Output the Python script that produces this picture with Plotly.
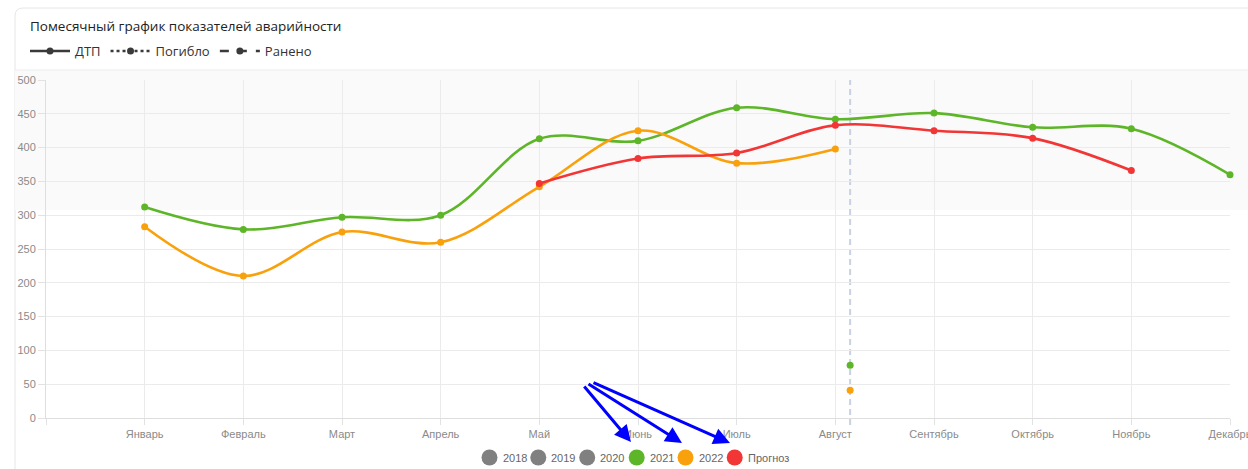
import plotly.graph_objects as go

# ---- data -------------------------------------------------------------
months = ["Январь", "Февраль", "Март", "Апрель", "Май", "Июнь",
          "Июль", "Август", "Сентябрь", "Октябрь", "Ноябрь", "Декабрь"]

dtp_2021 = [312, 279, 297, 300, 413, 410, 459, 442, 451, 430, 428, 360]
dtp_2022 = [283, 210, 275, 260, 342, 425, 377, 398, None, None, None, None]
forecast = [None, None, None, None, 347, 384, 392, 433, 425, 414, 366, None]

today_pos = 7.15          # current-date marker between Август and Сентябрь
today_2021 = 78
today_2022 = 41

line_legend = ["ДТП", "Погибло", "Ранено"]
line_dashes = ["solid", "dot", "dash"]

year_legend = ["2018", "2019", "2020", "2021", "2022", "Прогноз"]

# ---- style ------------------------------------------------------------
GREEN = "#5db528"
ORANGE = "#f9a10c"
RED = "#f23535"
GREY = "#808080"
year_colors = [GREY, GREY, GREY, GREEN, ORANGE, RED]

W, H = 1248, 469
ML, MR, MT, MB = 46, 18, 80, 51
PW, PH = W - ML - MR, H - MT - MB


def px(x):
    return (x - ML) / PW


def py(y):
    return (H - MB - y) / PH


x_idx = list(range(len(months)))

fig = go.Figure()

# series
for vals, col in [(dtp_2021, GREEN), (dtp_2022, ORANGE), (forecast, RED)]:
    fig.add_trace(go.Scatter(
        x=x_idx, y=vals, mode="lines+markers",
        line=dict(color=col, width=2.6, shape="spline", smoothing=1.0),
        marker=dict(color=col, size=7),
        showlegend=False, cliponaxis=False, hoverinfo="y",
    ))

# current-date points
for v, col in [(today_2021, GREEN), (today_2022, ORANGE)]:
    fig.add_trace(go.Scatter(
        x=[today_pos], y=[v], mode="markers",
        marker=dict(color=col, size=7),
        showlegend=False, cliponaxis=False,
    ))

# line-style legend
for name, dash in zip(line_legend, line_dashes):
    fig.add_trace(go.Scatter(
        x=[None], y=[None], mode="lines+markers", name=name,
        line=dict(color="#3a3a3a", width=2.5, dash=dash),
        marker=dict(color="#3a3a3a", size=7),
    ))

shapes = []

# card outline with rounded top-left corner
r = 8
shapes.append(dict(
    type="path", xref="paper", yref="paper",
    path=(f"M{px(15)},{py(490)} L{px(15)},{py(8 + r)} "
          f"Q{px(15)},{py(8)} {px(15 + r)},{py(8)} L{px(1270)},{py(8)}"),
    line=dict(color="#e6e6e6", width=1), layer="below",
))
# header separator and shaded band
shapes.append(dict(
    type="rect", xref="paper", yref="paper",
    x0=px(15), x1=px(1260), y0=py(210), y1=py(70),
    fillcolor="#fafafa", line=dict(width=0), layer="below",
))
shapes.append(dict(
    type="line", xref="paper", yref="paper",
    x0=px(15), x1=px(1260), y0=py(70), y1=py(70),
    line=dict(color="#ececec", width=1), layer="below",
))
# current-date dashed marker line
shapes.append(dict(
    type="line", xref="x", yref="paper",
    x0=today_pos, x1=today_pos, y0=py(425), y1=1,
    line=dict(color="#c9d2e3", width=2, dash="6px,4px"), layer="below",
))

annotations = []

# series legend (circles + labels)
legend_centers = [489.5, 538.3, 587.2, 636.7, 685.5, 734.7]
for name, col, cx in zip(year_legend, year_colors, legend_centers):
    shapes.append(dict(
        type="circle", xref="paper", yref="paper",
        xsizemode="pixel", ysizemode="pixel",
        xanchor=px(cx), yanchor=py(457.5),
        x0=-8, x1=8, y0=-8, y1=8,
        fillcolor=col, line=dict(width=0),
    ))
    annotations.append(dict(
        text=name, xref="paper", yref="paper",
        x=px(cx + 11), y=py(458), xanchor="left", yanchor="middle",
        showarrow=False,
        font=dict(family="Liberation Sans, Arial", size=11, color="#666666"),
    ))

# pointer arrows to the legend
for head, tail in [((631, 442), (583, 385)),
                   ((682, 443), (587, 383)),
                   ((730, 443), (592, 382))]:
    annotations.append(dict(
        text="", xref="paper", yref="paper",
        x=px(head[0]), y=py(head[1]),
        ax=tail[0] - head[0], ay=tail[1] - head[1],
        showarrow=True, arrowhead=2, arrowsize=1.1, arrowwidth=3,
        arrowcolor="#0000ff", standoff=0,
    ))

fig.update_layout(
    width=W, height=H,
    margin=dict(l=ML, r=MR, t=MT, b=MB, autoexpand=False),
    paper_bgcolor="white",
    plot_bgcolor="rgba(0,0,0,0)",
    title=dict(
        text="Помесячный график показателей аварийности",
        x=30 / W, y=1 - 26 / H, xanchor="left", yanchor="middle",
        xref="container", yref="container",
        font=dict(family="Open Sans", size=13.5, color="#222222"),
    ),
    legend=dict(
        orientation="h", xref="container", yref="container",
        x=25 / W, y=1 - 51 / H, xanchor="left", yanchor="middle",
        itemwidth=40,
        font=dict(family="Open Sans", size=13, color="#333333"),
        bgcolor="rgba(0,0,0,0)", itemclick=False,
    ),
    xaxis=dict(
        range=[-1, 11], tickmode="array",
        tickvals=[-1] + x_idx, ticktext=[""] + months,
        showgrid=True, gridcolor="#ebebeb", gridwidth=1,
        showline=True, linecolor="#dedede", linewidth=1,
        ticks="outside", ticklen=6, tickcolor="#e2e2e2",
        ticklabeloverflow="allow",
        tickfont=dict(family="Liberation Sans, Arial", size=11, color="#8a8a8a"),
        zeroline=False, fixedrange=True,
    ),
    yaxis=dict(
        range=[0, 500], dtick=50,
        showgrid=True, gridcolor="#ebebeb", gridwidth=1,
        showline=True, linecolor="#dedede", linewidth=1,
        ticks="outside", ticklen=7, tickcolor="#e2e2e2",
        tickfont=dict(family="Liberation Sans, Arial", size=11, color="#8a8a8a"),
        zeroline=False, fixedrange=True,
    ),
    shapes=shapes,
    annotations=annotations,
)

fig.write_html("out.html", config={"displayModeBar": False})
